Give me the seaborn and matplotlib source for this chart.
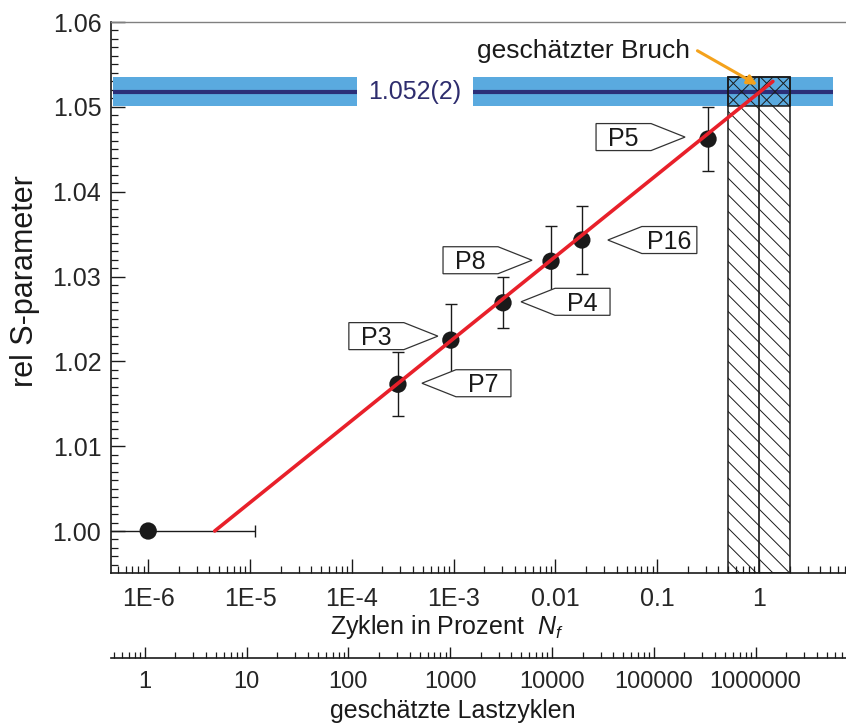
import numpy as np
import matplotlib
matplotlib.use("Agg")
import matplotlib.pyplot as plt
import matplotlib.ticker as mticker
import matplotlib.transforms as mtransforms
from matplotlib.patches import Polygon, Rectangle
import seaborn as sns

# ---------------- data ----------------
point_names = ["P7", "P3", "P4", "P8", "P16", "P5"]
cycles_pct = [2.84e-4, 9.4e-4, 3.06e-3, 9.06e-3, 0.0182, 0.316]
s_rel = [1.0173, 1.0225, 1.0269, 1.0318, 1.0343, 1.0462]
s_err = [0.0038, 0.0043, 0.0030, 0.0041, 0.0040, 0.0038]

ref_x = [1e-6]
ref_y = [1.000]
ref_xerr_lo = [0.91e-6]
ref_xerr_hi = [1.02e-5]

fit_x = [4.5e-6, 1.37]
fit_y = [1.000, 1.053]

plateau_val = 1.0518
plateau_err = 0.0017
plateau_text = "1.052(2)"

break_est = 1.0
break_lo = 0.5
break_hi = 2.0

pct_ticks = [1e-6, 1e-5, 1e-4, 1e-3, 1e-2, 1e-1, 1]
pct_labels = ["1E-6", "1E-5", "1E-4", "1E-3", "0.01", "0.1", "1"]
cyc_ticks = [1, 10, 100, 1000, 10000, 100000, 1000000]
cyc_labels = ["1", "10", "100", "1000", "10000", "100000", "1000000"]
cycles_per_pct = 1.08e6

# ---------------- layout / style ----------------
W, H, DPI = 846, 724, 100
AX_L, AX_R, AX_T, AX_B = 111, 846, 22, 573
XLIM = (4.31e-7, 7.16)
YLIM = (0.99505, 1.0600)
band_segments = [(4.5e-7, 1.12e-4), (1.55e-3, 5.33)]
text_gap_x = np.sqrt(1.12e-4 * 1.55e-3)

# tag geometry (pixels, relative to the data point): tip dx, dy, side
tag_tip = {"P7": (24, 1, "R"), "P3": (-13, 4, "L"), "P4": (18, 1, "R"),
           "P8": (-19, 1, "L"), "P16": (26, 0, "R"), "P5": (-23, 2, "L")}
ARROW, BODY, HALF = 34, 55, 13.5

sns.set_theme(style="white")
plt.rcParams["font.family"] = ["Liberation Sans", "DejaVu Sans"]
plt.rcParams["mathtext.fontset"] = "custom"
plt.rcParams["mathtext.it"] = "Liberation Sans:italic"
plt.rcParams["mathtext.rm"] = "Liberation Sans"
plt.rcParams["hatch.linewidth"] = 0.7
plt.rcParams["text.color"] = "#1a1a1a"

fig = plt.figure(figsize=(W / DPI, H / DPI), dpi=DPI)
ax = fig.add_axes([AX_L / W, (H - AX_B) / H, (AX_R - AX_L) / W, (AX_B - AX_T) / H])
ax.set_xscale("log")
ax.set_xlim(*XLIM)
ax.set_ylim(*YLIM)
ax.set_facecolor("white")

# plateau band
band_blue = "#5aaadf"
navy = "#2b2f78"
for x0, x1 in band_segments:
    ax.fill_between([x0, x1], plateau_val - plateau_err, plateau_val + plateau_err,
                    color=band_blue, lw=0, zorder=1)
    ax.plot([x0, x1], [plateau_val, plateau_val], color=navy, lw=3, zorder=1.5,
            solid_capstyle="butt")
ax.text(text_gap_x, plateau_val, plateau_text, ha="center", va="center",
        fontsize=18, color="#2e2d6e", zorder=2)

# break estimate hatched region
band_top = plateau_val + plateau_err
ax.add_patch(Rectangle((break_lo, YLIM[0]), break_hi - break_lo, band_top - YLIM[0],
                       fill=False, hatch="\\\\", edgecolor="#1a1a1a", lw=1.1, zorder=2))
ax.add_patch(Rectangle((break_lo, plateau_val - plateau_err), break_hi - break_lo,
                       2 * plateau_err, fill=False, hatch="//", edgecolor="#1a1a1a",
                       lw=1.1, zorder=2))
ax.plot([break_est, break_est], [YLIM[0], band_top], color="#1a1a1a", lw=1.2, zorder=2)

# error bars
ax.errorbar(cycles_pct, s_rel, yerr=s_err, fmt="none", ecolor="#1a1a1a",
            elinewidth=1.0, capsize=4.5, capthick=1.0, zorder=3)
ax.errorbar(ref_x, ref_y, xerr=[ref_xerr_lo, ref_xerr_hi], fmt="none",
            ecolor="#1a1a1a", elinewidth=1.0, capsize=4.0, capthick=1.0, zorder=3)

# points
sns.scatterplot(x=cycles_pct + ref_x, y=s_rel + ref_y, s=155, color="#1a1a1a",
                edgecolor="none", zorder=4, ax=ax, legend=False)

# fit line
sns.lineplot(x=fit_x, y=fit_y, color="#e8202a", lw=2.6, zorder=5, ax=ax)

# tags
for name, x, y in zip(point_names, cycles_pct, s_rel):
    dx, dy, side = tag_tip[name]
    sgn = 1 if side == "R" else -1
    base = dx + sgn * ARROW
    far = base + sgn * BODY
    verts = [(dx, dy), (base, dy + HALF), (far, dy + HALF), (far, dy - HALF), (base, dy - HALF)]
    verts = [(vx / DPI, vy / DPI) for vx, vy in verts]
    tr = fig.dpi_scale_trans + mtransforms.ScaledTranslation(x, y, ax.transData)
    ax.add_patch(Polygon(verts, closed=True, transform=tr, fc="white", ec="#333333",
                         lw=0.9, zorder=6))
    ax.text((base + far) / 2 / DPI, (dy - 8.8) / DPI, name, transform=tr, ha="center",
            va="baseline", fontsize=18, zorder=7)

# annotation "geschätzter Bruch"
ax.annotate("", xy=(0.96, 1.0526), xytext=(-43, 24.5), textcoords="offset points",
            arrowprops=dict(arrowstyle="-|>", color="#f4a21c", lw=2.2,
                            mutation_scale=14, shrinkA=0, shrinkB=0), zorder=8)
ax.text((690 - AX_L) / (AX_R - AX_L), (AX_B - 58) / (AX_B - AX_T), "geschätzter Bruch",
        transform=ax.transAxes, ha="right", va="baseline", fontsize=19)

# spines
for s in ["left", "bottom"]:
    ax.spines[s].set_color("#1a1a1a")
    ax.spines[s].set_linewidth(1.2)
ax.spines["top"].set_color("#808080")
ax.spines["top"].set_linewidth(1.0)
ax.spines["right"].set_visible(False)

# ticks
ax.xaxis.set_major_locator(mticker.FixedLocator(pct_ticks))
ax.xaxis.set_major_formatter(mticker.FixedFormatter(pct_labels))
ax.xaxis.set_minor_locator(mticker.LogLocator(base=10, subs=np.arange(2, 10), numticks=50))
ax.xaxis.set_minor_formatter(mticker.NullFormatter())
ax.yaxis.set_major_locator(mticker.MultipleLocator(0.01))
ax.yaxis.set_minor_locator(mticker.MultipleLocator(0.001))
ax.yaxis.set_major_formatter(mticker.FormatStrFormatter("%.2f"))
ax.tick_params(axis="both", which="both", direction="in", color="#1a1a1a",
               bottom=True, left=True, top=False, right=False)
ax.tick_params(axis="both", which="major", length=10, width=1.0, labelsize=18)
ax.tick_params(axis="both", which="minor", length=5, width=0.9)
ax.tick_params(axis="x", which="major", pad=10)
ax.tick_params(axis="y", which="major", pad=7)

# secondary axis
sec = ax.secondary_xaxis((AX_B - 658) / (AX_B - AX_T),
                         functions=(lambda v: v * cycles_per_pct, lambda v: v / cycles_per_pct))
sec.xaxis.set_major_locator(mticker.FixedLocator(cyc_ticks))
sec.xaxis.set_major_formatter(mticker.FixedFormatter(cyc_labels))
sec.xaxis.set_minor_locator(mticker.LogLocator(base=10, subs=np.arange(2, 10), numticks=50))
sec.xaxis.set_minor_formatter(mticker.NullFormatter())
sec.tick_params(axis="x", which="both", direction="in", color="#1a1a1a")
sec.tick_params(axis="x", which="major", length=8, width=1.0, labelsize=17, pad=9)
sec.tick_params(axis="x", which="minor", length=4, width=0.9)
sec.spines["bottom"].set_color("#1a1a1a")
sec.spines["bottom"].set_linewidth(1.2)

# axis labels
fig.text(25 / W, (H - 281) / H, "rel S-parameter", rotation=90, ha="center", va="center",
         fontsize=22)
fig.text(447 / W, (H - 634) / H, "Zyklen in Prozent  $N_f$", ha="center", va="baseline",
         fontsize=18)
fig.text(453 / W, (H - 718) / H, "geschätzte Lastzyklen", ha="center", va="baseline",
         fontsize=18)

fig.savefig("out.png", dpi=DPI, facecolor="white")
